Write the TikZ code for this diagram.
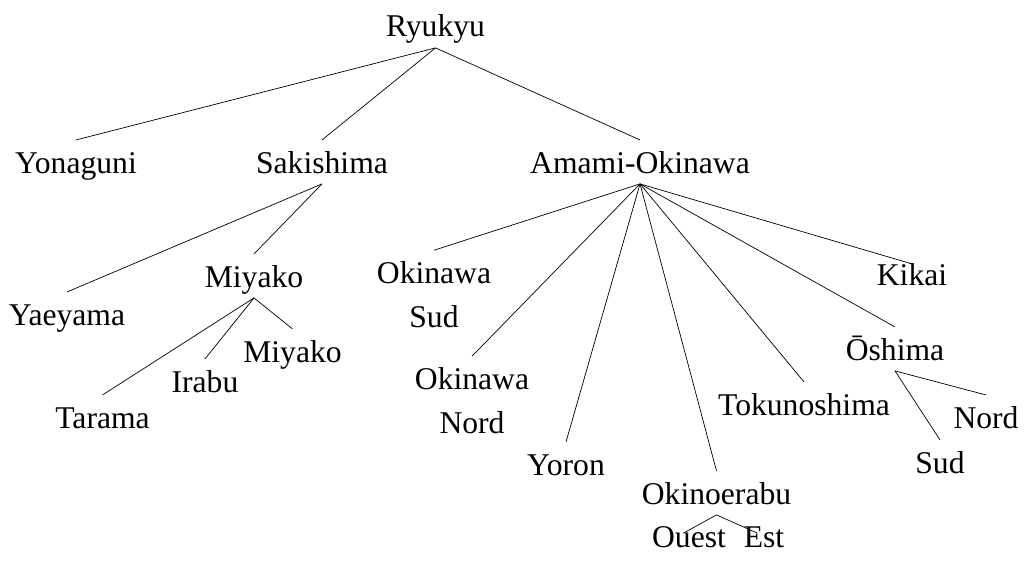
\documentclass[tikz,border=0pt]{standalone}
\usepackage{fontspec}
\setmainfont{Liberation Serif}
\usepackage{tikz}

\begin{document}
\begin{tikzpicture}[lang/.style={anchor=base, text height=12.6pt, text depth=0pt, inner sep=6pt, font=\fontsize{18}{25}\selectfont},
	langtwo/.style={anchor=base, align=center, text depth=0pt, inner sep=6pt, font=\fontsize{18}{25}\selectfont}]
	\useasboundingbox (0,0) rectangle (20.5,11.42);
	
	\node[lang] (ryukyu) at (8.71,10.68) {Ryukyu};
	\node[lang] (yonaguni) at (1.52,7.96) {Yonaguni};
	\node[lang] (sakishima) at (6.44,7.96) {Sakishima};
	\node[lang] (amami) at (12.8,7.96) {Amami-Okinawa};
	
	\node[lang] (yaeyama) at (1.34,4.92) {Yaeyama};
	\node[lang] (miyako) at (5.08,5.68) {Miyako};
	\node[lang] (miyakob) at (5.85,4.18) {Miyako};
	\node[lang] (irabu) at (4.1,3.58) {Irabu};
	\node[lang] (tarama) at (2.05,2.86) {Tarama};
	
	\node[langtwo] (oksud) at (8.68,4.88) {Okinawa\\Sud};
	\node[langtwo] (oknord) at (9.44,2.76) {Okinawa\\Nord};
	\node[lang] (yoron) at (11.32,1.92) {Yoron};
	\node[lang] (okinoerabu) at (14.33,1.34) {Okinoerabu};
	\node[lang] (ouest) at (13.78,0.48) {Ouest};
	\node[lang] (est) at (15.28,0.48) {Est};
	\node[lang] (tokuno) at (16.08,3.12) {Tokunoshima};
	\node[lang] (kikai) at (18.24,5.72) {Kikai};
	\node[lang] (oshima) at (17.9,4.22) {Ōshima};
	\node[lang] (osnord) at (19.72,2.86) {Nord};
	\node[lang] (ossud) at (18.8,1.96) {Sud};
	
	% branches
	\draw (ryukyu.south) -- (yonaguni.north);
	\draw (ryukyu.south) -- (sakishima.north);
	\draw (ryukyu.south) -- (amami.north);
	
	\draw (sakishima.south) -- (yaeyama.north);
	\draw (sakishima.south) -- (miyako.north);
	\draw (miyako.south) -- (tarama.north);
	\draw (miyako.south) -- (irabu.north);
	\draw (miyako.south) -- (miyakob.north);
	
	\draw (amami.south) -- (oksud.north);
	\draw (amami.south) -- (oknord.north);
	\draw (amami.south) -- (yoron.north);
	\draw (amami.south) -- (okinoerabu.north);
	\draw (amami.south) -- (tokuno.north);
	\draw (amami.south) -- (oshima.north);
	\draw (amami.south) -- ([yshift=-6.8pt]kikai.north);
	
	\draw (okinoerabu.south) -- ([xshift=-3pt,yshift=-10.8pt]ouest.north);
	\draw (okinoerabu.south) -- ([xshift=-4pt,yshift=-10.8pt]est.north);
	\draw (oshima.south) -- (osnord.north);
	\draw (oshima.south) -- (ossud.north);
\end{tikzpicture}
\end{document}
